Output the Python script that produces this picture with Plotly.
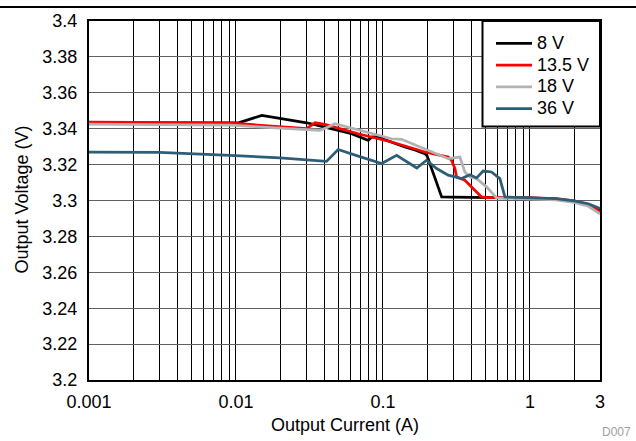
import plotly.graph_objects as go

# ---- data ----
i_8v = [0.001, 0.002, 0.005, 0.0091, 0.0104, 0.015, 0.02, 0.0303, 0.0403, 0.0612, 0.0794, 0.0837,
        0.0906, 0.141, 0.165, 0.193, 0.2, 0.251, 0.3, 0.5, 0.8, 1.0, 1.5, 2.0, 2.5, 3.0]
v_8v = [3.3433, 3.3433, 3.3432, 3.3432, 3.3433, 3.3474, 3.3456, 3.3433, 3.3409, 3.3372, 3.3335, 3.3353,
        3.3356, 3.3298, 3.3282, 3.3261, 3.3248, 3.3020, 3.3019, 3.3018, 3.3016, 3.3014, 3.3008, 3.2995, 3.2975, 3.2948]

i_13v5 = [0.001, 0.005, 0.0091, 0.0303, 0.0345, 0.0403, 0.0679, 0.1146, 0.193, 0.278, 0.293, 0.309,
          0.317, 0.361, 0.411, 0.469, 0.507, 0.7, 1.0, 1.5, 2.0, 2.5, 3.0]
v_13v5 = [3.3436, 3.3435, 3.3432, 3.3400, 3.3433, 3.3424, 3.3372, 3.3326, 3.3270, 3.3242, 3.3224, 3.3178,
          3.3131, 3.3113, 3.3067, 3.3020, 3.3016, 3.3016, 3.3015, 3.3010, 3.2998, 3.2978, 3.2938]

i_18v = [0.001, 0.005, 0.0091, 0.0372, 0.0425, 0.0471, 0.1146, 0.134, 0.193, 0.278, 0.334, 0.361,
         0.391, 0.434, 0.507, 0.593, 0.8, 1.0, 1.5, 2.0, 2.5, 3.0]
v_18v = [3.3425, 3.3424, 3.3420, 3.3391, 3.3409, 3.3428, 3.3344, 3.3341, 3.3289, 3.3233, 3.3242, 3.3159,
         3.3131, 3.3122, 3.3076, 3.3014, 3.3012, 3.3010, 3.3004, 3.2990, 3.2968, 3.2925]

i_36v = [0.001, 0.003, 0.0091, 0.02, 0.0413, 0.0496, 0.0679, 0.098, 0.124, 0.17, 0.198, 0.232, 0.278,
         0.343, 0.391, 0.434, 0.481, 0.548, 0.625, 0.676, 0.8, 1.0, 1.5, 2.0, 2.5, 3.0]
v_36v = [3.3270, 3.3268, 3.3252, 3.3237, 3.3218, 3.3284, 3.3247, 3.3206, 3.3252, 3.3181, 3.3224, 3.3178, 3.3141,
         3.3122, 3.3144, 3.3126, 3.3164, 3.3159, 3.3122, 3.3020, 3.3018, 3.3016, 3.3010, 3.2998, 3.2982, 3.2955]

x_tickvals = [0.001, 0.01, 0.1, 1, 3]
x_ticktext = ["0.001", "0.01", "0.1", "1", "3"]
y_tickvals = [3.2, 3.22, 3.24, 3.26, 3.28, 3.3, 3.32, 3.34, 3.36, 3.38, 3.4]
y_ticktext = ["3.2", "3.22", "3.24", "3.26", "3.28", "3.3", "3.32", "3.34", "3.36", "3.38", "3.4"]
minor_x = [m * 10.0 ** e for e in (-3, -2, -1, 0) for m in range(2, 10) if m * 10.0 ** e < 3]

series = [
    ("8 V", i_8v, v_8v, "#000000"),
    ("13.5 V", i_13v5, v_13v5, "#ff0000"),
    ("18 V", i_18v, v_18v, "#b2b2b2"),
    ("36 V", i_36v, v_36v, "#2e5e77"),
]

FONT = "Arial, Liberation Sans, sans-serif"
FS = 18

fig = go.Figure()
for name, xs, ys, col in series:
    fig.add_trace(go.Scatter(x=xs, y=ys, mode="lines",
                             name='<span style="font-size:18px">%s</span>' % name,
                             line=dict(color=col, width=2.75)))

W, H = 636, 441
L, R, T, B = 89, 36, 21, 61
pw, ph = W - L - R, H - T - B


def px(x):
    return (x - L) / pw


def py(y):
    return (H - B - y) / ph


fig.update_layout(
    width=W, height=H,
    margin=dict(l=L, r=R, t=T, b=B),
    paper_bgcolor="white", plot_bgcolor="white",
    font=dict(family=FONT, size=FS, color="#000"),
    showlegend=True,
    legend=dict(x=px(491), y=py(27.5), xanchor="left", yanchor="top",
                bgcolor="rgba(0,0,0,0)", borderwidth=0,
                font=dict(family=FONT, size=14.4, color="#000"),
                tracegroupgap=0, itemwidth=36),
    xaxis=dict(type="log", range=[-3, 0.47712], tickvals=x_tickvals, ticktext=x_ticktext,
               showgrid=True, gridcolor="#000", gridwidth=1,
               minor=dict(tickvals=minor_x, showgrid=True, gridcolor="#000", gridwidth=1, ticks=""),
               showline=True, linecolor="#000", linewidth=2, mirror=True,
               ticks="", ticklabelstandoff=4, zeroline=False, automargin=False,
               tickfont=dict(family=FONT, size=FS, color="#000")),
    yaxis=dict(range=[3.2, 3.4], tickvals=y_tickvals, ticktext=y_ticktext,
               showgrid=True, gridcolor="#606060", gridwidth=1,
               showline=True, linecolor="#000", linewidth=2, mirror=True,
               ticks="", ticklabelstandoff=6, zeroline=False, automargin=False,
               tickfont=dict(family=FONT, size=FS, color="#000")),
    annotations=[
        dict(text="Output Current (A)", xref="paper", yref="paper",
             x=0.5, y=py(425), xanchor="center", yanchor="middle",
             showarrow=False, font=dict(family=FONT, size=FS, color="#000")),
        dict(text="Output Voltage (V)", xref="paper", yref="paper",
             x=px(21.5), y=py(200), xanchor="center", yanchor="middle",
             textangle=-90, showarrow=False, font=dict(family=FONT, size=FS, color="#000")),
        dict(text="D007", xref="paper", yref="paper",
             x=px(616), y=py(432), xanchor="center", yanchor="middle",
             showarrow=False, font=dict(family=FONT, size=12, color="#a0a0a0")),
    ],
    shapes=[
        dict(type="line", xref="paper", yref="paper",
             x0=px(0), x1=px(W), y0=py(7), y1=py(7),
             line=dict(color="#000", width=2)),
        dict(type="rect", xref="paper", yref="paper", layer="above",
             x0=px(482.5), x1=1, y0=py(126.5), y1=1,
             fillcolor="white", line=dict(color="#000", width=2)),
    ],
)

fig.write_html("out.html", config={"displayModeBar": False},
               post_script="document.body.style.margin='0';document.body.style.padding='0';")
